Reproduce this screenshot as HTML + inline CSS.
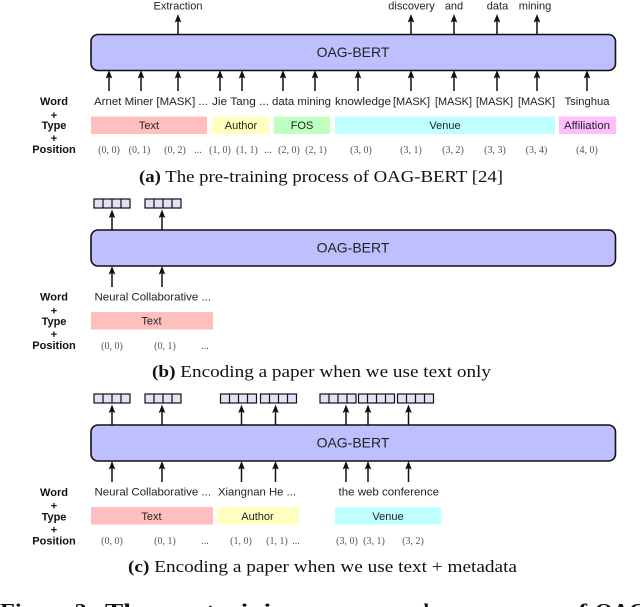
<!DOCTYPE html>
<html><head><meta charset="utf-8"><style>
html,body{margin:0;padding:0;background:#fff;width:640px;height:607px;overflow:hidden}
svg{display:block}
.w{font:11.2px "Liberation Sans",sans-serif;fill:#222}
.h{font:bold 11px "Liberation Sans",sans-serif;fill:#111;text-anchor:middle}
.t{font:11px "Liberation Sans",sans-serif;fill:#222;text-anchor:middle}
.p{font:10px "Liberation Serif",serif;fill:#555;text-anchor:middle}
.b{font:14px "Liberation Sans",sans-serif;fill:#222;text-anchor:middle}
.c{font:17px "Liberation Serif",serif;fill:#111}
.f{font:bold 21px "Liberation Serif",serif;fill:#111}
.box{fill:#bfbfff;stroke:#111;stroke-width:1.6}
</style></head><body>
<svg width="640" height="607" viewBox="0 0 640 607" xmlns="http://www.w3.org/2000/svg">
<defs>
<g id="u"><path d="M0 0V-16" stroke="#111" stroke-width="1.5" fill="none"/><path d="M0 -21L-3.300 -12.500L0 -14L3.300 -12.500Z" fill="#111"/></g>
<g id="v"><rect x="0" y="0" width="36" height="9" fill="#e6dff7" stroke="#111" stroke-width="1.2"/><path d="M9 0V9M18 0V9M27 0V9" stroke="#111" stroke-width="1.2"/></g>
</defs>

<!-- Panel A -->
<text class="t" x="178" y="9.500">Extraction</text>
<text class="t" x="411.500" y="9.500">discovery</text>
<text class="t" x="454" y="9.500">and</text>
<text class="t" x="497.500" y="9.500">data</text>
<text class="t" x="535" y="9.500">mining</text>
<use href="#u" x="178" y="35"/><use href="#u" x="411" y="35"/><use href="#u" x="454" y="35"/><use href="#u" x="497" y="35"/><use href="#u" x="537" y="35"/>
<rect class="box" x="91" y="34.500" width="524.500" height="36" rx="7"/>
<text class="b" x="353" y="57">OAG-BERT</text>
<use href="#u" x="109" y="91"/><use href="#u" x="141" y="91"/><use href="#u" x="178" y="91"/><use href="#u" x="220" y="91"/><use href="#u" x="242" y="91"/><use href="#u" x="283" y="91"/><use href="#u" x="315" y="91"/><use href="#u" x="358" y="91"/><use href="#u" x="411" y="91"/><use href="#u" x="454" y="91"/><use href="#u" x="497" y="91"/><use href="#u" x="537" y="91"/><use href="#u" x="587" y="91"/>
<text class="w" x="94" y="105" textLength="114" lengthAdjust="spacingAndGlyphs">Arnet Miner [MASK] ...</text>
<text class="w" x="212" y="105" textLength="57" lengthAdjust="spacingAndGlyphs">Jie Tang ...</text>
<text class="w" x="272" y="105" textLength="59" lengthAdjust="spacingAndGlyphs">data mining</text>
<text class="w" x="335" y="105" textLength="56" lengthAdjust="spacingAndGlyphs">knowledge</text>
<text class="w" x="393" y="105" textLength="37" lengthAdjust="spacingAndGlyphs">[MASK]</text>
<text class="w" x="435" y="105" textLength="37" lengthAdjust="spacingAndGlyphs">[MASK]</text>
<text class="w" x="476" y="105" textLength="37" lengthAdjust="spacingAndGlyphs">[MASK]</text>
<text class="w" x="518" y="105" textLength="37" lengthAdjust="spacingAndGlyphs">[MASK]</text>
<text class="w" x="564.500" y="105" textLength="45" lengthAdjust="spacingAndGlyphs">Tsinghua</text>
<text class="h" x="54" y="105">Word</text><text class="h" x="54" y="119">+</text><text class="h" x="54" y="129">Type</text><text class="h" x="54" y="142">+</text><text class="h" x="54" y="153">Position</text>
<rect x="91" y="116.500" width="116" height="17.500" fill="#ffbfbf"/>
<rect x="212" y="116.500" width="57" height="17.500" fill="#ffffbf"/>
<rect x="274" y="116.500" width="56" height="17.500" fill="#bfffbf"/>
<rect x="335" y="116.500" width="220" height="17.500" fill="#bfffff"/>
<rect x="559" y="116.500" width="57" height="17.500" fill="#ffbfff"/>
<text class="t" x="149" y="129">Text</text><text class="t" x="241" y="129">Author</text><text class="t" x="302" y="129">FOS</text><text class="t" x="445" y="129">Venue</text><text class="t" x="587" y="129" textLength="46" lengthAdjust="spacingAndGlyphs">Affiliation</text>
<text class="p" x="109" y="153">(0, 0)</text><text class="p" x="139.500" y="153">(0, 1)</text><text class="p" x="175" y="153">(0, 2)</text><text class="p" x="198" y="153">...</text><text class="p" x="220" y="153">(1, 0)</text><text class="p" x="247" y="153">(1, 1)</text><text class="p" x="268" y="153">...</text><text class="p" x="289" y="153">(2, 0)</text><text class="p" x="316" y="153">(2, 1)</text><text class="p" x="361" y="153">(3, 0)</text><text class="p" x="411" y="153">(3, 1)</text><text class="p" x="453" y="153">(3, 2)</text><text class="p" x="495" y="153">(3, 3)</text><text class="p" x="536.500" y="153">(3, 4)</text><text class="p" x="587" y="153">(4, 0)</text>
<text class="c" x="139" y="182" textLength="364" lengthAdjust="spacingAndGlyphs"><tspan font-weight="bold">(a)</tspan> The pre-training process of OAG-BERT [24]</text>

<!-- Panel B -->
<use href="#v" x="94" y="199"/><use href="#v" x="145" y="199"/>
<use href="#u" x="112" y="230.500"/><use href="#u" x="162" y="230.500"/>
<rect class="box" x="91" y="230" width="524.500" height="36" rx="7"/>
<text class="b" x="353" y="252.500">OAG-BERT</text>
<use href="#u" x="112" y="287"/><use href="#u" x="162" y="287"/>
<text class="w" x="94.500" y="300.500" textLength="116.500" lengthAdjust="spacingAndGlyphs">Neural Collaborative ...</text>
<text class="h" x="54" y="300.500">Word</text><text class="h" x="54" y="314.500">+</text><text class="h" x="54" y="325">Type</text><text class="h" x="54" y="338">+</text><text class="h" x="54" y="349">Position</text>
<rect x="91" y="312" width="122" height="17.500" fill="#ffbfbf"/>
<text class="t" x="151.500" y="324.500">Text</text>
<text class="p" x="112" y="349">(0, 0)</text><text class="p" x="165" y="349">(0, 1)</text><text class="p" x="205" y="349">...</text>
<text class="c" x="152" y="377" textLength="339" lengthAdjust="spacingAndGlyphs"><tspan font-weight="bold">(b)</tspan> Encoding a paper when we use text only</text>

<!-- Panel C -->
<use href="#v" x="94" y="394"/><use href="#v" x="145" y="394"/><use href="#v" x="220.500" y="394"/><use href="#v" x="260.500" y="394"/><use href="#v" x="320" y="394"/><use href="#v" x="358.500" y="394"/><use href="#v" x="397.500" y="394"/>
<use href="#u" x="112" y="425.500"/><use href="#u" x="162" y="425.500"/><use href="#u" x="241.500" y="425.500"/><use href="#u" x="275.500" y="425.500"/><use href="#u" x="346" y="425.500"/><use href="#u" x="368" y="425.500"/><use href="#u" x="408.500" y="425.500"/>
<rect class="box" x="91" y="425" width="524.500" height="36" rx="7"/>
<text class="b" x="353" y="447.500">OAG-BERT</text>
<use href="#u" x="112" y="482"/><use href="#u" x="162" y="482"/><use href="#u" x="241.500" y="482"/><use href="#u" x="275.500" y="482"/><use href="#u" x="346" y="482"/><use href="#u" x="368" y="482"/><use href="#u" x="408.500" y="482"/>
<text class="w" x="94.500" y="495.500" textLength="116.500" lengthAdjust="spacingAndGlyphs">Neural Collaborative ...</text>
<text class="w" x="218" y="495.500" textLength="78" lengthAdjust="spacingAndGlyphs">Xiangnan He ...</text>
<text class="w" x="338.500" y="495.500" textLength="100.500" lengthAdjust="spacingAndGlyphs">the web conference</text>
<text class="h" x="54" y="496">Word</text><text class="h" x="54" y="509.500">+</text><text class="h" x="54" y="520.500">Type</text><text class="h" x="54" y="533.500">+</text><text class="h" x="54" y="544.500">Position</text>
<rect x="91" y="507" width="122" height="17.500" fill="#ffbfbf"/>
<rect x="217" y="507" width="82" height="17.500" fill="#ffffbf"/>
<rect x="335" y="507" width="106" height="17.500" fill="#bfffff"/>
<text class="t" x="151.500" y="520">Text</text><text class="t" x="257.500" y="520">Author</text><text class="t" x="388" y="520">Venue</text>
<text class="p" x="112" y="544">(0, 0)</text><text class="p" x="165" y="544">(0, 1)</text><text class="p" x="205" y="544">...</text><text class="p" x="241" y="544">(1, 0)</text><text class="p" x="277" y="544">(1, 1)</text><text class="p" x="296" y="544">...</text><text class="p" x="347" y="544">(3, 0)</text><text class="p" x="374" y="544">(3, 1)</text><text class="p" x="413" y="544">(3, 2)</text>
<text class="c" x="128" y="572" textLength="389" lengthAdjust="spacingAndGlyphs"><tspan font-weight="bold">(c)</tspan> Encoding a paper when we use text + metadata</text>

<!-- Figure caption (clipped) -->
<text class="f" x="0" y="618" textLength="95" lengthAdjust="spacingAndGlyphs">Figure 3:</text>
<text class="f" x="105" y="618" textLength="195" lengthAdjust="spacingAndGlyphs">The pre-training</text>
<text class="f" x="308" y="618" textLength="82" lengthAdjust="spacingAndGlyphs">process</text>
<text class="f" x="396" y="618" textLength="33" lengthAdjust="spacingAndGlyphs">and</text>
<text class="f" x="438" y="618" textLength="120" lengthAdjust="spacingAndGlyphs">usages</text>
<text class="f" x="565" y="618" textLength="22" lengthAdjust="spacingAndGlyphs">of</text>
<text class="f" x="595" y="618" textLength="120" lengthAdjust="spacingAndGlyphs">OAG-BERT</text>
</svg>
</body></html>
